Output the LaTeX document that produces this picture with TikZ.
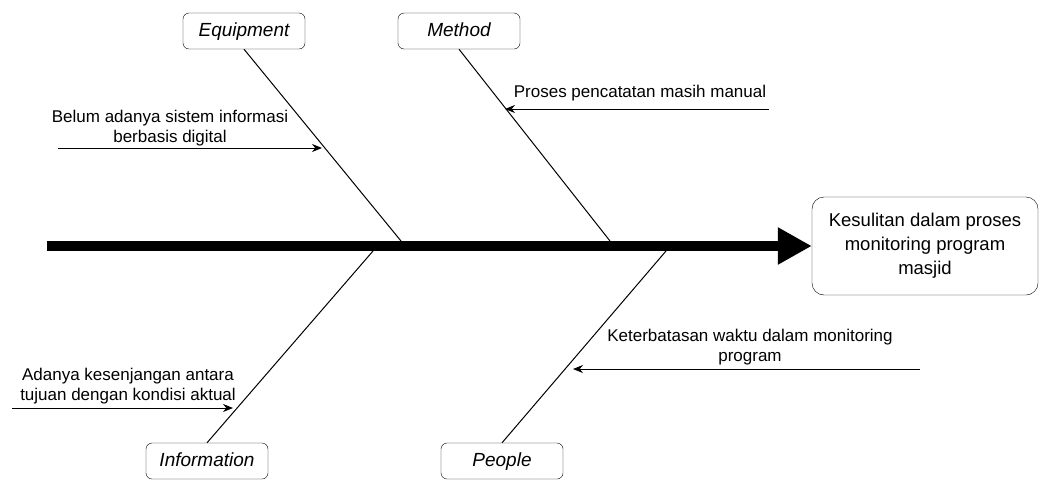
\documentclass[tikz,border=0pt]{standalone}
\usepackage{fontspec}
\setmainfont{Liberation Sans}
\usetikzlibrary{arrows.meta}

\tikzset{
  catbox/.style={draw, rounded corners=6pt, minimum width=122pt, minimum height=36pt, inner sep=0pt, text height=14pt, text depth=3pt, font=\fontsize{19}{22}\selectfont\itshape},
  effectbox/.style={draw, rounded corners=12pt, minimum width=226pt, minimum height=98pt, inner sep=0pt, align=center, font=\fontsize{18.5}{24}\selectfont},
  causetext/.style={align=center, inner sep=0pt, font=\fontsize{17}{19.5}\selectfont},
  causearrow/.style={-{Stealth[length=10pt,width=8pt]}, line width=1pt},
  bone/.style={line width=1pt},
  spine/.style={line width=10pt, -{Triangle[length=34pt,width=35pt]}}
}

\begin{document}
\begin{tikzpicture}[x=1pt,y=-1pt]
\useasboundingbox (0,0) rectangle (1039,480);
% effect and categories
\node[effectbox] (effect) at (925,246) {Kesulitan dalam proses\\monitoring program\\masjid};
\node[catbox] (equip) at (244,31) {Equipment};
\node[catbox] (method) at (459,31) {Method};
\node[catbox] (info) at (207,461) {Information};
\node[catbox] (people) at (502,461) {People};
% spine
\coordinate (tail) at (47,246);
\draw[spine] (tail) -- (effect.west);
% bones
\coordinate (eqroot) at (401,241);
\coordinate (meroot) at (610,241);
\coordinate (inroot) at (373,251);
\coordinate (peroot) at (666,251);
\draw[bone] (equip.south) -- (eqroot);
\draw[bone] (method.south) -- (meroot);
\draw[bone] (info.north) -- (inroot);
\draw[bone] (people.north) -- (peroot);
% causes
\node[causetext] (c1) at (170,128) {Belum adanya sistem informasi\\berbasis digital};
\coordinate (c1s) at (58,148);
\coordinate (c1t) at (322,148);
\draw[causearrow] (c1s) -- (c1t);
\node[causetext] (c2) at (640,93) {Proses pencatatan masih manual};
\coordinate (c2s) at (769,109);
\coordinate (c2t) at (505,109);
\draw[causearrow] (c2s) -- (c2t);
\node[causetext] (c3) at (128,386) {Adanya kesenjangan antara\\tujuan dengan kondisi aktual};
\coordinate (c3s) at (12,408);
\coordinate (c3t) at (233,408);
\draw[causearrow] (c3s) -- (c3t);
\node[causetext] (c4) at (750,347) {Keterbatasan waktu dalam monitoring\\program};
\coordinate (c4s) at (920,369);
\coordinate (c4t) at (573,369);
\draw[causearrow] (c4s) -- (c4t);
\end{tikzpicture}
\end{document}
